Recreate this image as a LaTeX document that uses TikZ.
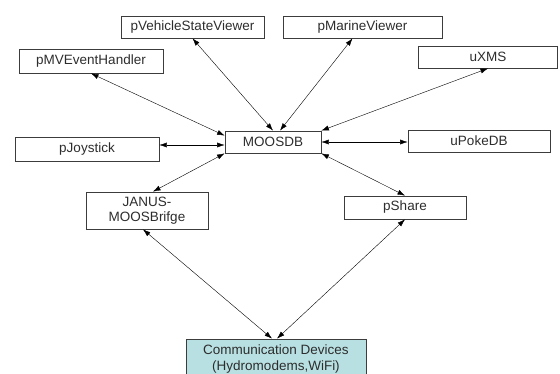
\documentclass[tikz,border=0pt]{standalone}
\usepackage{fontspec}
\setmainfont{Liberation Sans}
\usetikzlibrary{arrows.meta}

\definecolor{devfill}{RGB}{184,224,226}
\definecolor{boxline}{RGB}{60,60,60}
\definecolor{boxtext}{RGB}{45,45,45}

\begin{document}
\begin{tikzpicture}[x=1pt,
            y=-1pt,
            <->,
            >={Latex[length=7.5pt,width=5pt]},
            thin,
            app/.style={draw=boxline, line width=0.8pt, rectangle,
                        minimum height=22pt, inner sep=2pt,
                        text=boxtext, font=\fontsize{13.5}{15.5}\selectfont,
                        align=center},
            dev/.style={app, fill=devfill}]

        \useasboundingbox (0,0) rectangle (560,374);

        \node[app, minimum width=143pt] (vsv)   at (192.5,27)  {pVehicleStateViewer};
        \node[app, minimum width=159pt] (pmv)   at (362.5,27)  {pMarineViewer};
        \node[app, minimum width=144pt,
              minimum height=24pt]      (evh)   at (91,61)     {pMVEventHandler};
        \node[app, minimum width=139pt] (uxms)  at (488,57)    {uXMS};
        \node[app, minimum width=96pt]  (moos)  at (273,142)   {MOOSDB};
        \node[app, minimum width=142pt] (poke)  at (479,141)   {uPokeDB};
        \node[app, minimum width=144pt,
              minimum height=24pt]      (joy)   at (87,149)    {pJoystick};
        \node[app, minimum width=122pt,
              minimum height=37pt]      (janus) at (147,210.5) {JANUS-\\MOOSBrifge};
        \node[app, minimum width=122pt,
              minimum height=23pt]      (share) at (405,207.5) {pShare};
        \node[dev, minimum width=180pt,
              minimum height=40pt]      (comm)  at (276,359)   {Communication Devices\\(Hydromodems,WiFi)};

        \draw (vsv.south) -- (moos.north);
        \draw ([xshift=-10pt]pmv.south) -- ([xshift=7pt]moos.north);
        \draw (evh.south) -- ([yshift=-5pt]moos.north west);
        \draw (uxms.south) -- (moos.north east);
        \draw ([yshift=4pt]joy.east) -- ([yshift=4pt]joy.east -| moos.west);
        \draw (moos.east) -- (moos.east -| poke.west);
        \draw (moos.south west) -- ([xshift=6pt]janus.north);
        \draw (moos.south east) -- (share.north);
        \draw ([xshift=-4pt]janus.south) -- ([xshift=-4pt]comm.north);
        \draw (share.south) -- ([xshift=1pt]comm.north);

    \end{tikzpicture}
\end{document}
